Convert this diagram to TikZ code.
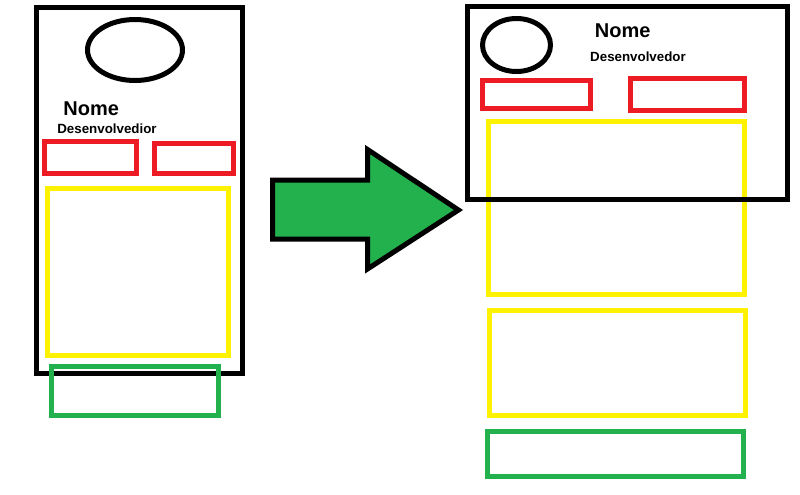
\documentclass[tikz,border=0pt]{standalone}
\usepackage{fontspec}
\setmainfont{Liberation Sans}
\usepackage{xcolor}
\usetikzlibrary{shapes.geometric}

\definecolor{paintred}{RGB}{237,28,36}
\definecolor{paintyellow}{RGB}{255,242,0}
\definecolor{paintgreen}{RGB}{34,177,76}

\begin{document}
\begin{tikzpicture}[x=0.75pt, y=-0.75pt,
    frame/.style={rectangle, draw=black, line width=3.75pt, inner sep=0pt},
    photo/.style={ellipse, draw=black, line width=3.75pt, inner sep=0pt},
    button/.style={rectangle, draw=paintred, line width=3.75pt, inner sep=0pt},
    content/.style={rectangle, draw=paintyellow, line width=3.75pt, inner sep=0pt},
    footer/.style={rectangle, draw=paintgreen, line width=3.75pt, inner sep=0pt},
    dims/.style 2 args={minimum width=#1*0.75pt, minimum height=#2*0.75pt},
    username/.style={font=\bfseries\fontsize{15}{18}\selectfont, inner sep=0pt},
    userrole/.style={font=\bfseries\fontsize{10}{12}\selectfont, inner sep=0pt}
]
\useasboundingbox (0,0) rectangle (800,494);

% Portrait layout
\node[frame, dims={206}{366}] (phone) at (139.5,190.5) {};
\node[photo, dims={95}{61}] (phone_photo) at (135,50) {};
\node[username] (phone_name) at (91.2,108.4) {Nome};
\node[userrole] (phone_role) at (107,128.5) {Desenvolvedior};
\node[button, dims={92}{31.4}] (phone_btn_a) at (90.8,157.5) {};
\node[button, dims={79}{30}] (phone_btn_b) at (193.7,158.8) {};
\node[content, dims={181}{167}] (phone_content) at (138,272) {};
\node[footer, dims={167}{49}] (phone_footer) at (135,391) {};

% Transition arrow
\draw[line width=3.75pt, fill=paintgreen] (272.5,180) -- (367.5,180) -- (367.5,149.5)
    -- (458.5,210) -- (367.5,269) -- (367.5,239) -- (272.5,239) -- cycle;

% Landscape layout
\node[content, dims={256}{173}] (wide_content) at (616.5,208) {};
\node[frame, dims={320}{192.5}] (wide_header) at (627.5,103) {};
\node[photo, dims={68}{53}] (wide_photo) at (516.5,45) {};
\node[username] (wide_name) at (622.7,31) {Nome};
\node[userrole] (wide_role) at (638,56.3) {Desenvolvedor};
\node[button, dims={108}{28}] (wide_btn_a) at (536.5,94.5) {};
\node[button, dims={114}{32}] (wide_btn_b) at (687.5,94.5) {};
\node[content, dims={256}{105}] (wide_content_b) at (617,362.5) {};
\node[footer, dims={256}{45}] (wide_footer) at (615.5,454) {};

\end{tikzpicture}
\end{document}
